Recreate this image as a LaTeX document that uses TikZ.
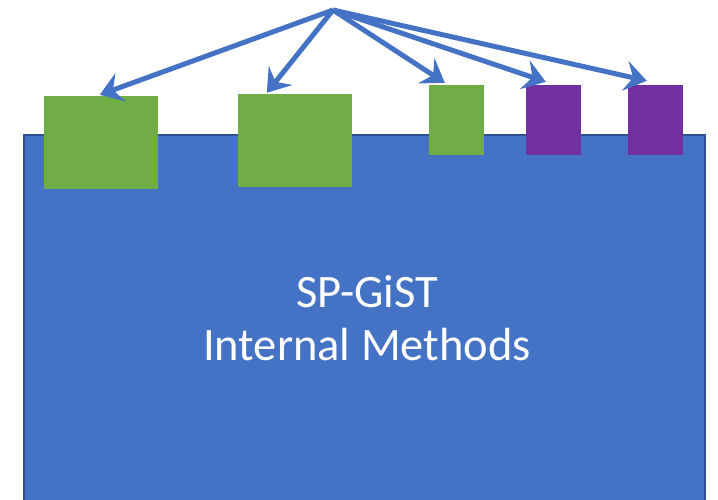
\documentclass[tikz,border=0pt]{standalone}
\usepackage{fontspec}
\setmainfont{Carlito}
\usetikzlibrary{arrows.meta}

\definecolor{methodblue}{HTML}{4472C4}
\definecolor{methodedge}{HTML}{2F528F}
\definecolor{supgreen}{HTML}{70AD47}
\definecolor{optpurple}{HTML}{7030A0}

\tikzstyle{bigbox} = [fill=methodblue,draw=methodedge,line width=1.5pt]
\tikzstyle{greenbox} = [rectangle,fill=supgreen,inner sep=0pt]
\tikzstyle{purplebox} = [rectangle,fill=optpurple,inner sep=0pt]
\tikzstyle{link} = [draw=methodblue,line width=5pt,-{Stealth[length=22pt,width=30pt,inset=8pt]}]

\begin{document}
\begin{tikzpicture}[x=1pt,y=-1pt]
	\useasboundingbox (0,0) rectangle (718,499);
	\draw[bigbox] (24,135) rectangle (705,520);
	\node[white,align=center,font=\fontsize{46.5}{53}\selectfont] (title) at (367,318) {SP-GiST\\Internal Methods};
	
	\node[greenbox,minimum width=114pt,minimum height=93pt] (g1) at (101,142.5) {};
	\node[greenbox,minimum width=114pt,minimum height=93pt] (g2) at (295,140.5) {};
	\node[greenbox,minimum width=55pt,minimum height=70pt] (g3) at (456.5,120) {};
	\node[purplebox,minimum width=55pt,minimum height=70pt] (p1) at (553.5,120) {};
	\node[purplebox,minimum width=55pt,minimum height=70pt] (p2) at (655.5,120) {};
	
	\coordinate (src) at (333,10);
	\draw[link] (src) -- ([xshift=56pt,yshift=1pt]g1.north west);
	\draw[link] (src) -- ([xshift=29pt,yshift=1pt]g2.north west);
	\draw[link] (src) -- ([xshift=16pt,yshift=2pt]g3.north west);
	\draw[link] (src) -- ([xshift=20pt,yshift=3pt]p1.north west);
	\draw[link] (src) -- ([xshift=19pt,yshift=4pt]p2.north west);
\end{tikzpicture}
\end{document}
